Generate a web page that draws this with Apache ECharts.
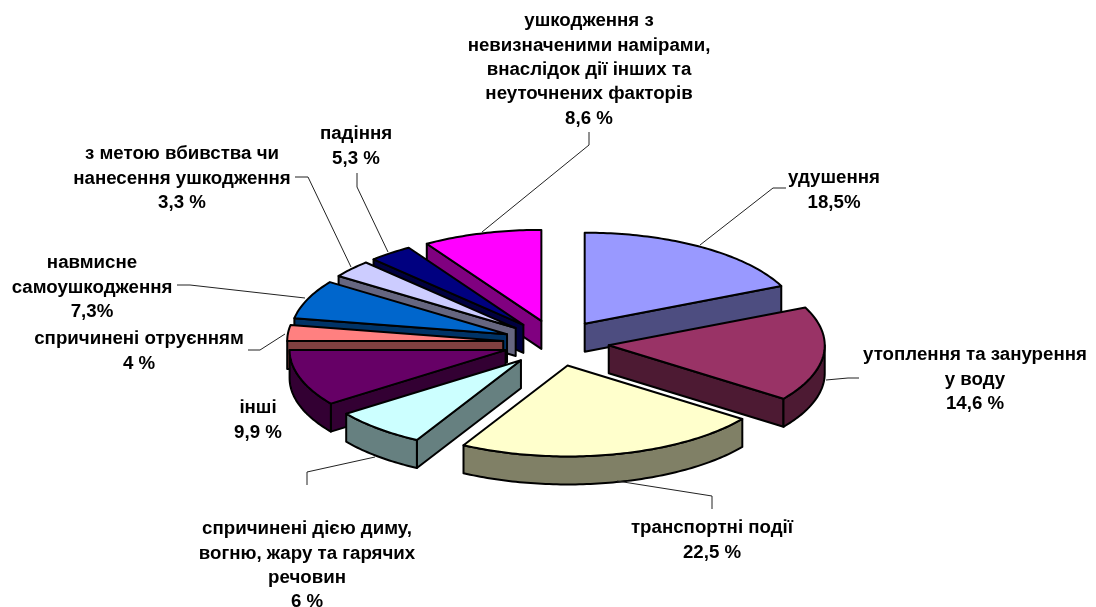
<!DOCTYPE html>
<html>
<head>
<meta charset="utf-8">
<style>html,body{margin:0;padding:0;background:#fff}#c{width:1096px;height:607px}</style>
<script src="https://cdn.jsdelivr.net/npm/echarts@6/dist/echarts.min.js"></script>
</head>
<body>
<div id="c"></div>
<script>
// Category names as printed
const categories = [
  'удушення',
  'утоплення та занурення\nу воду',
  'транспортні події',
  'спричинені дією диму,\nвогню, жару та гарячих\nречовин',
  'інші',
  'спричинені отруєнням',
  'навмисне\nсамоушкодження',
  'з метою вбивства чи\nнанесення ушкодження',
  'падіння',
  'ушкодження з\nневизначеними намірами,\nвнаслідок дії інших та\nнеуточнених факторів'
];
// Percentages as printed on the labels
const printedPercents = ['18,5%','14,6 %','22,5 %','6 %','9,9 %','4 %','7,3%','3,3 %','5,3 %','8,6 %'];
// Share of the circle each slice actually occupies
// (the drawn sectors differ slightly from the printed percentages)
const sectorShares = [18.2, 16.8, 23.0, 7.0, 10, 2.8, 6.9, 3.1, 3.3, 8.9];
const sliceColors = ['#9999FF','#993366','#FFFFCC','#CCFFFF','#660066','#FF8080','#0066CC','#CCCCFF','#000080','#FF00FF'];

// Layout of the labels: centre x, centre y of the first line
const labelAnchors = [[834,178],[975,355],[712,528],[307,529],[258,408],[139,339],[92,263],[182,154],[356,134],[589,21]];
const leaderLines = [
  [[786,188],[773,188],[700,245]],
  [[859,378],[848,378],[826,380]],
  [[712,509],[712,496],[617,481]],
  [[307,485],[307,472],[375,457]],
  [[248,350],[260,350],[285,334]],
  [[177,285],[190,285],[305,298]],
  [[295,177],[308,177],[351,267]],
  [[357,173],[357,187],[388,252]],
  [[589,132],[589,145],[482,232]]
];

// Pie projection
const CX = 556, CY = 343, RX = 216, RY = 91, EXPLODE_X = 53, EXPLODE_Y = 23, DEPTH = 28, LINE_H = 24.4;

const total = sectorShares.reduce((a, b) => a + b, 0);
const shade = c => '#' + [1, 3, 5].map(i => Math.round(parseInt(c.substr(i, 2), 16) / 2).toString(16).padStart(2, '0')).join('');
const rad = d => d * Math.PI / 180;

function renderSlice(params, api) {
  const i = params.dataIndex;
  let before = 0;
  for (let k = 0; k < i; k++) before += sectorShares[k];
  const a0 = before / total * 360, a1 = a0 + api.value(0) / total * 360, mid = (a0 + a1) / 2;
  const ax = CX + EXPLODE_X * Math.sin(rad(mid)), ay = CY - EXPLODE_Y * Math.cos(rad(mid));
  const pt = (d, dz) => [ax + RX * Math.sin(rad(d)), ay - RY * Math.cos(rad(d)) + (dz || 0)];
  const arc = (from, to, dz) => {
    const out = [], n = Math.max(2, Math.ceil(Math.abs(to - from)));
    for (let s = 0; s <= n; s++) out.push(pt(from + (to - from) * s / n, dz));
    return out;
  };
  const base = Math.round(ay * 10) * 10;
  const top = sliceColors[i], wall = shade(top);
  const border = { stroke: '#000', lineWidth: 2, lineJoin: 'round' };
  const poly = (points, fill, z2) => ({ type: 'polygon', shape: { points }, style: Object.assign({ fill }, border), z2, silent: true });
  const children = [];
  if (Math.sin(rad(a0)) < -1e-6) {
    const p = pt(a0), q = pt(a0, DEPTH);
    children.push(poly([[ax, ay], p, q, [ax, ay + DEPTH]], wall, base + 1));
  }
  if (Math.sin(rad(a1)) > 1e-6) {
    const p = pt(a1), q = pt(a1, DEPTH);
    children.push(poly([[ax, ay], p, q, [ax, ay + DEPTH]], wall, base + 1));
  }
  const f0 = Math.max(a0, 90), f1 = Math.min(a1, 270);
  if (f1 > f0) children.push(poly(arc(f0, f1, 0).concat(arc(f1, f0, DEPTH)), wall, base + 2));
  children.push(poly([[ax, ay]].concat(arc(a0, a1, 0)), top, base + 3));
  return { type: 'group', children };
}

const graphics = [];
leaderLines.forEach(points => graphics.push({
  type: 'polyline', shape: { points }, silent: true, z: 50,
  style: { fill: null, stroke: '#222', lineWidth: 1 }
}));
categories.forEach((name, i) => graphics.push({
  type: 'text', x: labelAnchors[i][0], y: labelAnchors[i][1] - LINE_H / 2, silent: true, z: 60,
  style: {
    text: name + '\n' + printedPercents[i], fill: '#000',
    font: 'bold 18.7px "Liberation Sans", Arial, sans-serif',
    lineHeight: LINE_H, align: 'center', verticalAlign: 'top'
  }
}));

const chart = echarts.init(document.getElementById('c'), null, { renderer: 'canvas' });
chart.setOption({
  animation: false,
  backgroundColor: '#fff',
  tooltip: { show: false },
  series: [{
    type: 'custom',
    coordinateSystem: 'none',
    renderItem: renderSlice,
    data: sectorShares.map(v => [v]),
    silent: true
  }],
  graphic: graphics
});
</script>
</body>
</html>
